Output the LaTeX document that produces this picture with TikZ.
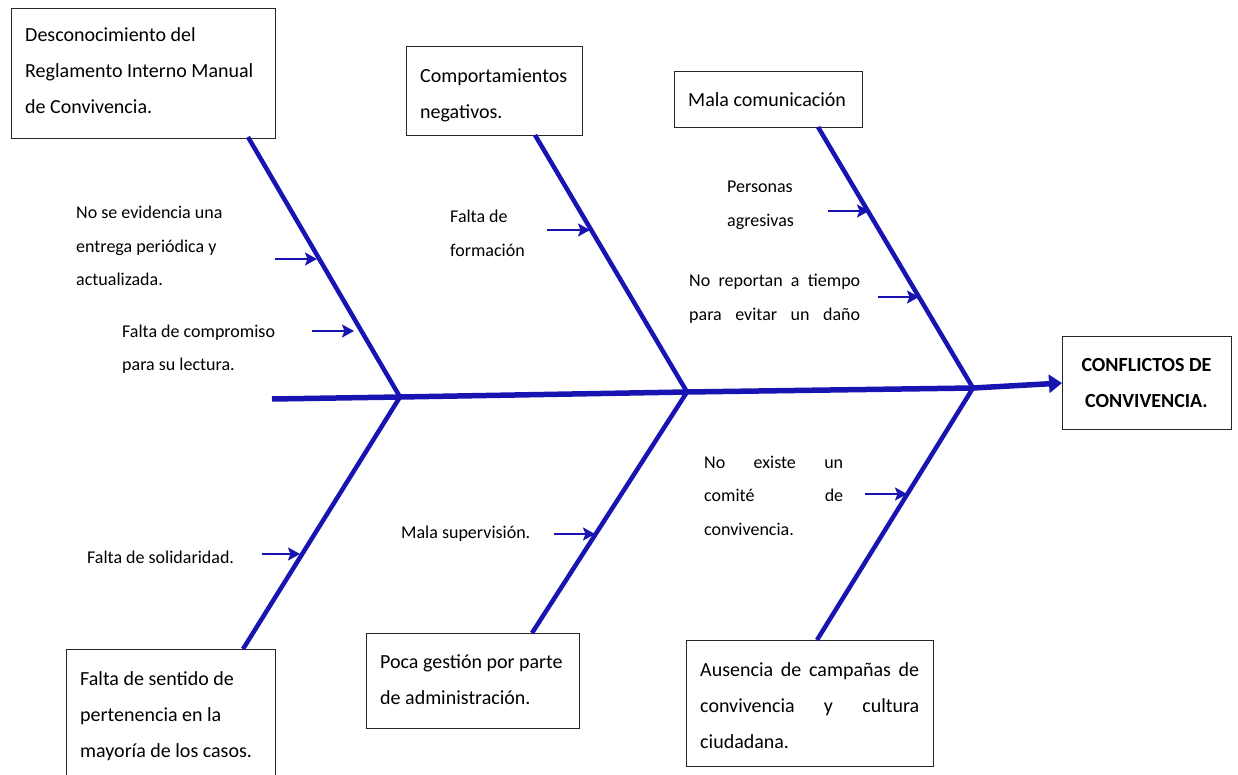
\documentclass[tikz,border=0pt]{standalone}
\usepackage{fontspec}
\setmainfont{Carlito}
\usetikzlibrary{arrows.meta}
\definecolor{fishblue}{RGB}{24,20,178}
\begin{document}
\begin{tikzpicture}[x=1pt,y=-1pt,
  box/.style={draw=black!85, line width=1.1pt, anchor=north west, inner sep=0pt},
  txt/.style={anchor=base west, inner sep=0pt, font=\fontsize{20}{36}\selectfont},
  lbl/.style={anchor=base west, inner sep=0pt, font=\fontsize{18}{33.5}\selectfont},
  bone/.style={draw=fishblue, line width=4.5pt},
  spine/.style={draw=fishblue, line width=5.5pt, -{Triangle[length=13pt,width=18pt]}},
  sub/.style={draw=fishblue, line width=2.8pt, -{Stealth[length=12pt,width=13pt,inset=2.5pt]}}
]
\useasboundingbox (0,0) rectangle (1238,775);
\clip (0,0) rectangle (1238,775);

% boxes
\node[box, minimum width=264, minimum height=130] (b1) at (11,8) {};
\node[txt] (t1) at (25,42) {\parbox[t]{260pt}{Desconocimiento del\\Reglamento Interno Manual\\de Convivencia.}};
\node[box, minimum width=176, minimum height=89] (b2) at (406,46) {};
\node[txt] (t2) at (420,83) {\parbox[t]{200pt}{Comportamientos\\negativos.}};
\node[box, minimum width=188, minimum height=56] (b3) at (674,71) {};
\node[txt] (t3) at (688,107) {Mala comunicación};
\node[box, minimum width=209, minimum height=140] (b4) at (66,649) {};
\node[txt] (t4) at (80,685) {\parbox[t]{220pt}{Falta de sentido de\\pertenencia en la\\mayoría de los casos.}};
\node[box, minimum width=213, minimum height=95] (b5) at (366,633) {};
\node[txt] (t5) at (380,668) {\parbox[t]{220pt}{Poca gestión por parte\\de administración.}};
\node[box, minimum width=247, minimum height=126] (b6) at (686,640) {};
\node[txt] (t6) at (700,676) {\parbox[t]{219pt}{\makebox[219pt][s]{Ausencia de campañas de}\\\makebox[219pt][s]{convivencia y cultura}\\ciudadana.}};
\node[box, minimum width=169, minimum height=93] (head) at (1062,336) {};
\node[txt, anchor=base] (th) at (1146.5,371) {\parbox[t]{169pt}{\centering\bfseries CONFLICTOS DE\\CONVIVENCIA.}};

% spine
\coordinate (tail) at (272,399);
\coordinate (j1) at (400,397);
\coordinate (j2) at (687,392);
\coordinate (j3) at (973,388);
\draw[spine] (tail) -- (j1) -- (j2) -- (j3) -- (head.west);

% bones
\coordinate (u1) at (248,137);
\coordinate (d1) at (243,649);
\coordinate (u2) at (535,135);
\coordinate (d2) at (532,633);
\coordinate (u3) at (818,127);
\coordinate (d3) at (817,640);
\draw[bone] (u1) -- (j1) -- (d1);
\draw[bone] (u2) -- (j2) -- (d2);
\draw[bone] (u3) -- (j3) -- (d3);

% labels
\node[lbl] (l1) at (76,219) {\parbox[t]{200pt}{No se evidencia una\\entrega periódica y\\actualizada.}};
\node[lbl] (l2) at (122,337) {\parbox[t]{200pt}{Falta de compromiso\\para su lectura.}};
\node[lbl] (l3) at (450,223) {\parbox[t]{200pt}{Falta de\\formación}};
\node[lbl] (l4) at (727,193) {\parbox[t]{200pt}{Personas\\agresivas}};
\node[lbl] (l5) at (689,287) {\parbox[t]{171pt}{\makebox[171pt][s]{No reportan a tiempo}\\\makebox[171pt][s]{para evitar un daño}}};
\node[lbl] (l6) at (87,563) {Falta de solidaridad.};
\node[lbl] (l7) at (401,538) {Mala supervisión.};
\node[lbl] (l8) at (704,468) {\parbox[t]{139pt}{\makebox[139pt][s]{No existe un}\\\makebox[139pt][s]{comité de}\\convivencia.}};

% sub-cause arrows
\coordinate (s1) at (275,259);  \coordinate (e1) at (317,259);
\coordinate (s2) at (312,331);  \coordinate (e2) at (354,331);
\coordinate (s3) at (547,230);  \coordinate (e3) at (590,230);
\coordinate (s4) at (828,211);  \coordinate (e4) at (869,211);
\coordinate (s5) at (878,297);  \coordinate (e5) at (919,297);
\coordinate (s6) at (262,554);  \coordinate (e6) at (300,554);
\coordinate (s7) at (554,534);  \coordinate (e7) at (595,534);
\coordinate (s8) at (865,494);  \coordinate (e8) at (907,494);
\foreach \i in {1,...,8} {\draw[sub] (s\i) -- (e\i);}
\end{tikzpicture}
\end{document}
